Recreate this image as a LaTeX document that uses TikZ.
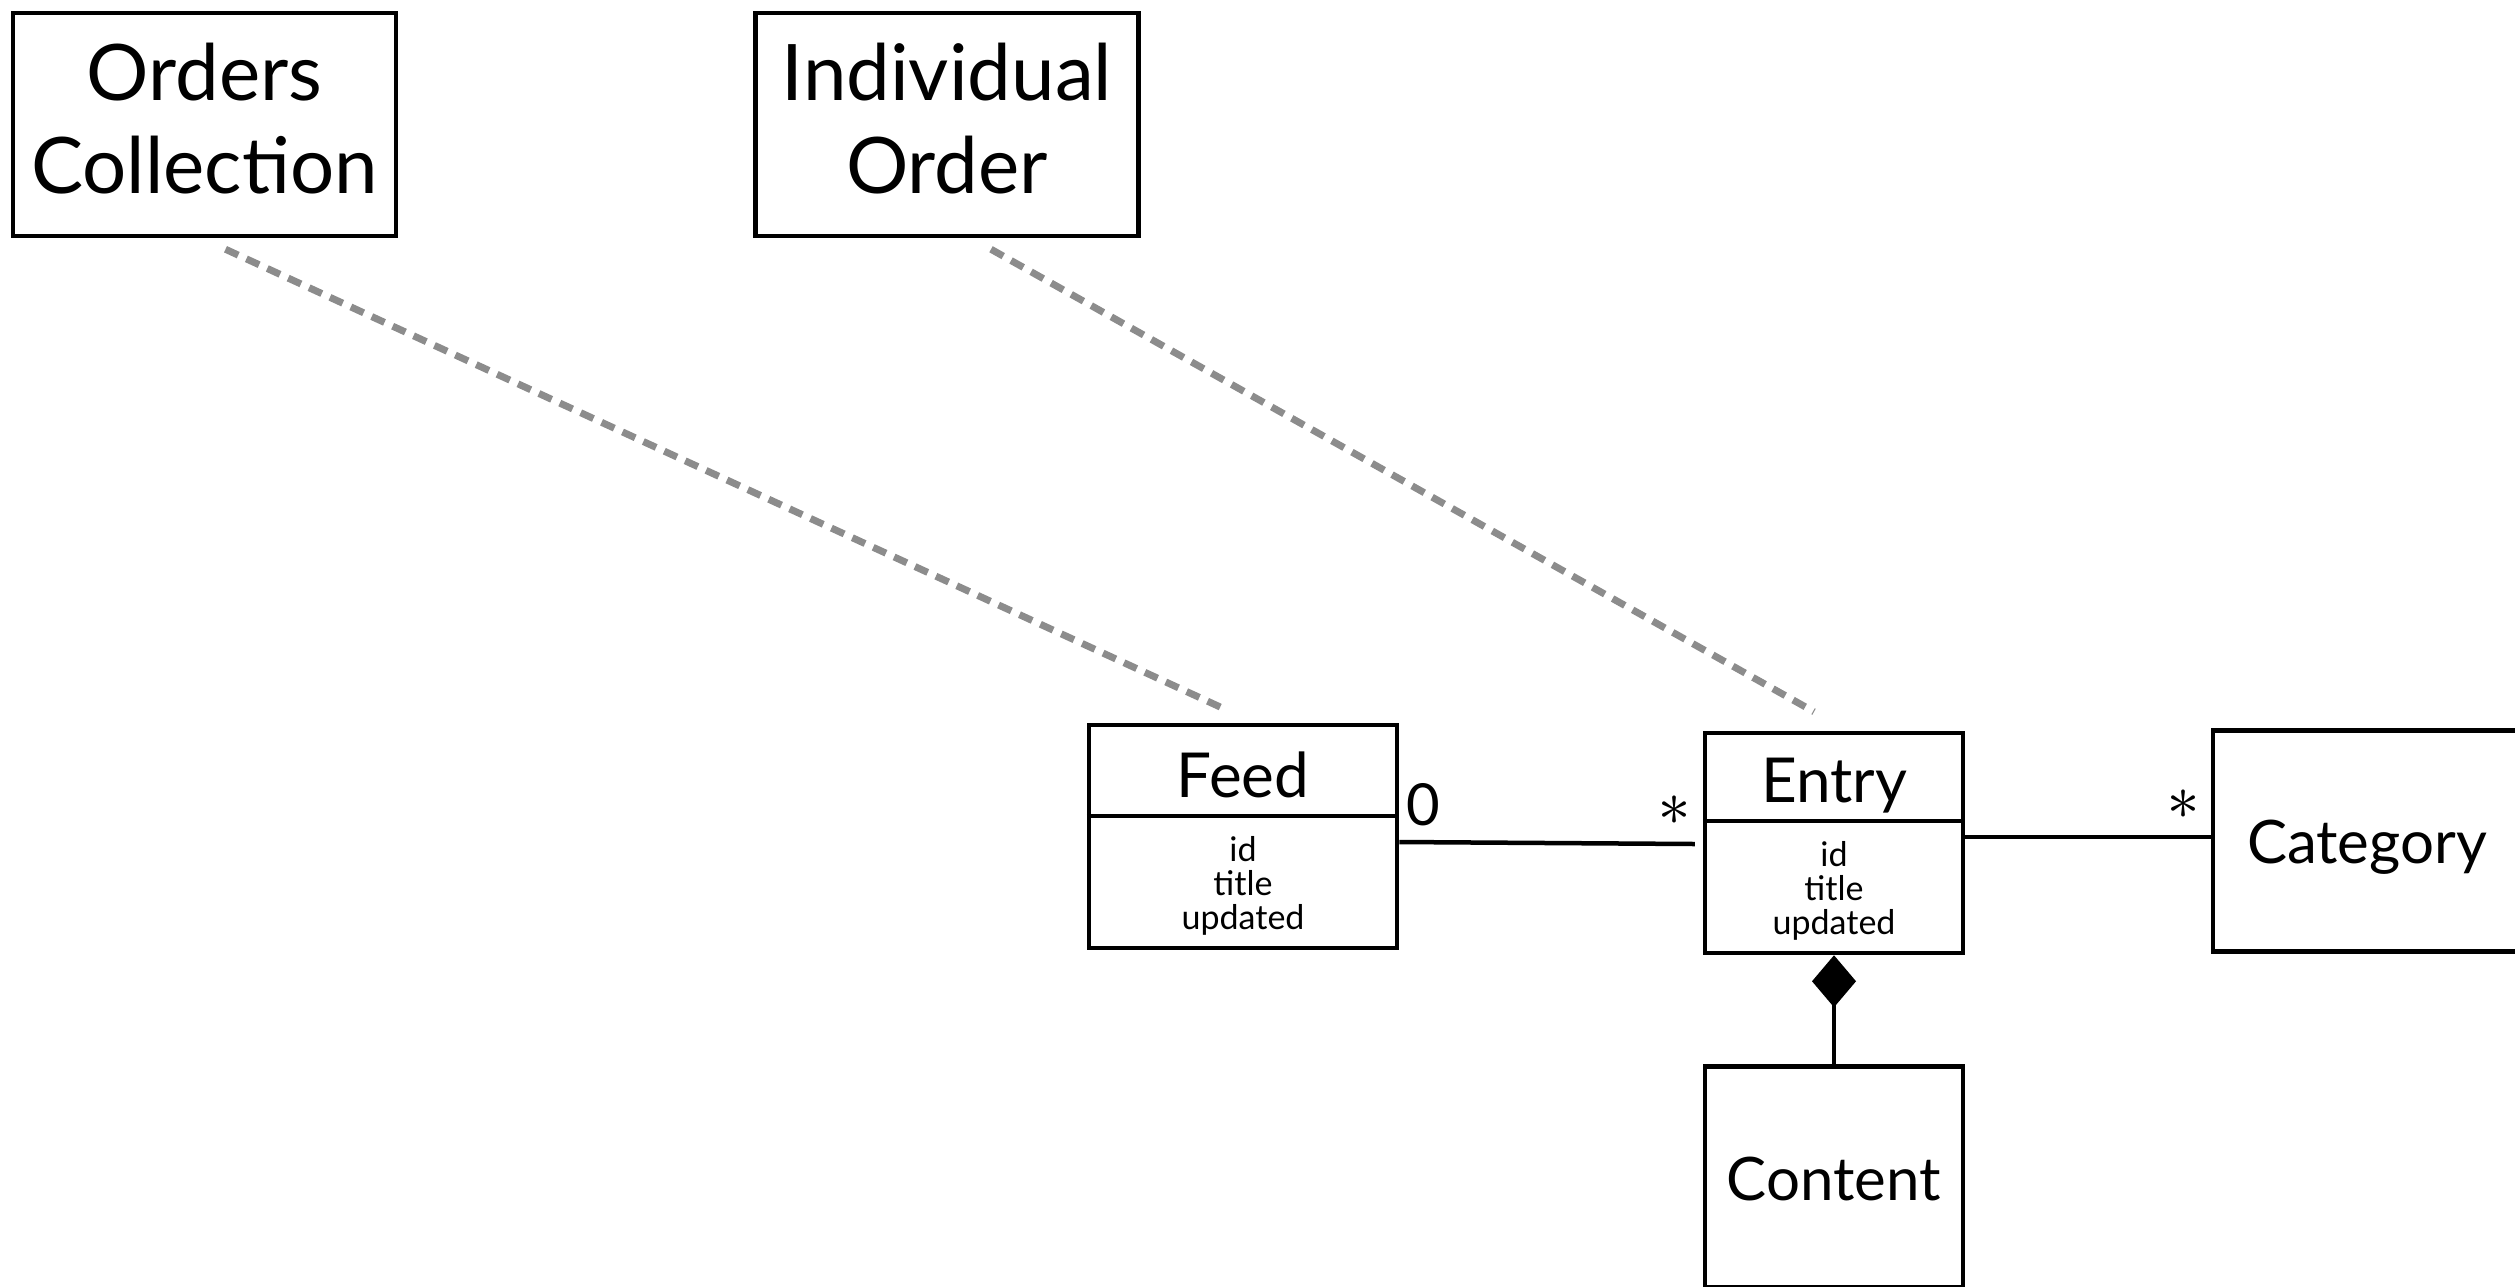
\documentclass[tikz,border=0pt]{standalone}
\usepackage{fontspec}
\setmainfont{Lato}
\newfontfamily\starfont{Latin Modern Math}
\usetikzlibrary{arrows.meta}
\begin{document}
\begin{tikzpicture}[x=1pt,y=-1pt,
  box/.style={draw,line width=4.5pt,inner sep=0pt,align=center},
  bigbox/.style={box,minimum width=383pt,minimum height=223pt},
  bigtext/.style={inner sep=0pt,align=center,font=\fontsize{78}{93}\selectfont},
  classbox/.style={box,minimum height=221pt},
  divider/.style={line width=3.5pt},
  titletext/.style={inner sep=0pt,anchor=base,font=\fontsize{62}{74}\selectfont},
  attrtext/.style={inner sep=0pt,align=center,font=\fontsize{34}{34}\selectfont},
  multtext/.style={inner sep=0pt,anchor=base,font=\fontsize{58}{70}\selectfont},
  startext/.style={inner sep=0pt,font=\starfont\fontsize{64}{70}\selectfont},
  trace/.style={draw=black!45,line width=7pt,dash pattern=on 14pt off 9pt},
  assoc/.style={line width=4.5pt},
]
\useasboundingbox[fill=white] (0,0) rectangle (2515,1286);

% representation boxes
\node[bigbox] (orders) at (204.5,124.5) {};
\node[bigtext] (orderstext) at (204.5,119) {Orders\\Collection};
\node[bigbox] (order) at (947,124.5) {};
\node[bigtext] (ordertext) at (947,119) {Individual\\Order};

% Feed class
\node[classbox,minimum width=308pt,minimum height=223pt] (feed) at (1243,836.5) {};
\draw[divider] ([yshift=-93pt]feed.north west) -- ([yshift=-93pt]feed.north east);
\node[titletext] (feedtitle) at (1243,797) {Feed};
\node[attrtext] (feedattr) at (1243,886) {id\\title\\updated};

% Entry class
\node[classbox,minimum width=258pt,minimum height=220pt] (entry) at (1834,843) {};
\draw[divider] ([yshift=-90pt]entry.north west) -- ([yshift=-90pt]entry.north east);
\node[titletext] (entrytitle) at (1834,802) {Entry};
\node[attrtext] (entryattr) at (1834,891) {id\\title\\updated};

% Category and Content
\node[classbox,minimum width=308pt] (category) at (2367,841) {};
\node[titletext,font=\fontsize{60}{70}\selectfont] (cattext) at (2367,863) {Category};
\node[classbox,minimum width=258pt] (content) at (1834,1177) {};
\node[titletext,font=\fontsize{60}{70}\selectfont] (contenttext) at (1834,1200) {Content};

% traces from the representations to the classes
\draw[trace] ([shift={(21,11)}]orders.south) -- ([shift={(-19,-14)}]feed.north);
\draw[trace] ([shift={(44,11)}]order.south) -- ([shift={(-20,-19)}]entry.north);

% associations
\draw[assoc] ([yshift=-5.5pt]feed.east) -- ([shift={(-8,1)}]entry.west);
\draw[assoc] ([yshift=6pt]entry.east) -- ([yshift=4pt]category.west);
\draw[assoc,{Diamond[length=52pt,width=44pt]}-] (entry.south) -- (content.north);

% multiplicities
\node[multtext] (mzero) at (1423,825) {0};
\node[startext] (mfeed) at (1674,811) {∗};
\node[startext] (mcat) at (2183,805) {∗};
\end{tikzpicture}
\end{document}
